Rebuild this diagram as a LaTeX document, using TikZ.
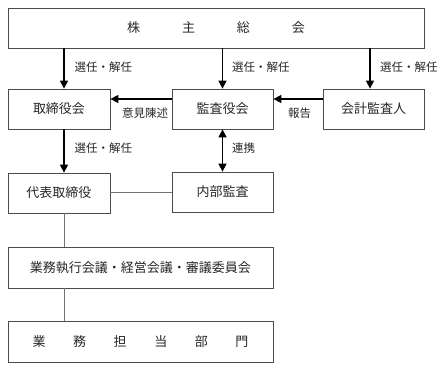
\documentclass[tikz,border=0pt]{standalone}
\usepackage{fontspec}
\setmainfont{Noto Sans CJK JP}
\usetikzlibrary{arrows.meta}
\begin{document}
\begin{tikzpicture}[x=1pt,y=-1pt,
  box/.style={draw=black!70,line width=0.8pt,minimum height=40pt,inner sep=0pt,font=\fontsize{13}{13}\selectfont,text=black!85},
  lbl/.style={font=\fontsize{11.5}{12}\selectfont,text=black!85,inner sep=0pt},
  arr/.style={line width=1.5pt,-{Triangle[length=8pt,width=8pt]}},
  darr/.style={line width=1.5pt,{Triangle[length=8pt,width=8pt]}-{Triangle[length=8pt,width=8pt]}},
  plain/.style={draw=black!55,line width=0.8pt}]
\useasboundingbox (0,0) rectangle (448,368);
\node[box,minimum width=416pt] (top) at (216,28) {株\hspace{42pt}主\hspace{42pt}総\hspace{42pt}会};
\node[box,minimum width=102pt] (tori) at (59,109) {取締役会};
\node[box,minimum width=101pt] (kansa) at (222.5,109) {監査役会};
\node[box,minimum width=101pt] (kaikei) at (373.5,109) {会計監査人};
\node[box,minimum width=102pt] (daihyo) at (59,193) {代表取締役};
\node[box,minimum width=101pt] (naibu) at (222.5,192) {内部監査};
\node[box,minimum width=265pt,minimum height=41pt] (gyomu) at (140.5,267.5) {業務執行会議・経営会議・審議委員会};
\node[box,minimum width=265pt,minimum height=41pt] (bumon) at (140.5,341.5) {業\hspace{27.6pt}務\hspace{27.6pt}担\hspace{27.6pt}当\hspace{27.6pt}部\hspace{27.6pt}門};
\coordinate (cx1) at (64,0);
\coordinate (cx3) at (370,0);
\coordinate (ry) at (0,99);
\draw[arr] (top.south -| cx1) -- (tori.north -| cx1);
\draw[arr] (top.south -| kansa.north) -- (kansa.north);
\draw[arr] (top.south -| cx3) -- (kaikei.north -| cx3);
\draw[arr] (kansa.west |- ry) -- (tori.east |- ry);
\draw[arr] (kaikei.west |- ry) -- (kansa.east |- ry);
\draw[arr] (tori.south -| cx1) -- (daihyo.north -| cx1);
\draw[darr] (kansa.south) -- (naibu.north);
\draw[plain] (daihyo.east |- naibu.west) -- (naibu.west);
\draw[plain] (daihyo.south -| cx1) -- (gyomu.north -| cx1);
\draw[plain] (gyomu.south -| cx1) -- (bumon.north -| cx1);
\node[lbl,anchor=west] (l1) at (74.5,67) {選任・解任};
\node[lbl,anchor=west] (l2) at (232,67) {選任・解任};
\node[lbl,anchor=west] (l3) at (380,67) {選任・解任};
\node[lbl,anchor=west] (l4) at (122,113) {意見陳述};
\node[lbl,anchor=west] (l5) at (288,113) {報告};
\node[lbl,anchor=west] (l6) at (74.5,148) {選任・解任};
\node[lbl,anchor=west] (l7) at (232,148) {連携};
\end{tikzpicture}
\end{document}
